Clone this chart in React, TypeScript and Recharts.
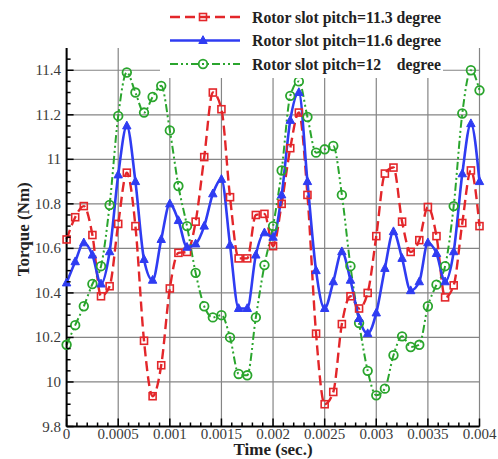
import React from 'react';
import { LineChart, Line, XAxis, YAxis, CartesianGrid, Legend } from 'recharts';

// ---------- data ----------
const timeSec = [
  0, 0.0000833, 0.0001667, 0.00025, 0.0003333, 0.0004167, 0.0005, 0.0005833, 0.0006667, 0.00075,
  0.0008333, 0.0009167, 0.001, 0.0010833, 0.0011667, 0.00125, 0.0013333, 0.0014167, 0.0015, 0.0015833,
  0.0016667, 0.00175, 0.0018333, 0.0019167, 0.002, 0.0020833, 0.0021667, 0.00225, 0.0023333, 0.0024167,
  0.0025, 0.0025833, 0.0026667, 0.00275, 0.0028333, 0.0029167, 0.003, 0.0030833, 0.0031667, 0.00325,
  0.0033333, 0.0034167, 0.0035, 0.0035833, 0.0036667, 0.00375, 0.0038333, 0.0039167, 0.004,
];

const torquePitch113 = [
  10.64, 10.74, 10.79, 10.66, 10.385, 10.43, 10.71, 10.94, 10.7, 10.185,
  9.936, 10.075, 10.42, 10.58, 10.584, 10.72, 11.01, 11.3, 11.225, 10.83,
  10.555, 10.555, 10.75, 10.755, 10.61, 10.8, 11.05, 11.21, 10.84, 10.217,
  9.9, 9.955, 10.26, 10.385, 10.33, 10.4, 10.655, 10.936, 10.963, 10.72,
  10.584, 10.637, 10.786, 10.655, 10.38, 10.434, 10.714, 10.95, 10.7,
];

const torquePitch116 = [
  10.445, 10.54, 10.625, 10.57, 10.44, 10.585, 10.93, 11.15, 10.9, 10.55,
  10.457, 10.64, 10.8, 10.725, 10.605, 10.62, 10.7, 10.845, 10.91, 10.615,
  10.33, 10.33, 10.57, 10.67, 10.65, 10.84, 11.175, 11.3, 10.9, 10.5,
  10.33, 10.45, 10.585, 10.457, 10.285, 10.217, 10.31, 10.51, 10.675, 10.555,
  10.41, 10.45, 10.625, 10.577, 10.45, 10.585, 10.935, 11.16, 10.9,
];

const torquePitch12 = [
  10.167, 10.255, 10.34, 10.44, 10.52, 10.795, 11.195, 11.39, 11.3, 11.21,
  11.28, 11.33, 11.13, 10.88, 10.7, 10.49, 10.34, 10.29, 10.3, 10.2,
  10.036, 10.03, 10.29, 10.525, 10.7, 10.95, 11.285, 11.35, 11.19, 11.03,
  11.045, 11.06, 10.84, 10.52, 10.265, 10.05, 9.94, 9.97, 10.12, 10.205,
  10.157, 10.167, 10.34, 10.437, 10.52, 10.79, 11.206, 11.4, 11.31,
];

const seriesNames = [
  'Rotor slot pitch=11.3 degree',
  'Rotor slot pitch=11.6 degree',
  'Rotor slot pitch=12    degree',
];

const xMajorTicks = [0, 0.0005, 0.001, 0.0015, 0.002, 0.0025, 0.003, 0.0035, 0.004];
const xTickLabels = ['0', '0.0005', '0.001', '0.0015', '0.002', '0.0025', '0.003', '0.0035', '0.004'];
const yMajorTicks = [9.8, 10, 10.2, 10.4, 10.6, 10.8, 11, 11.2, 11.4];
const yTickLabels = ['9.8', '10', '10.2', '10.4', '10.6', '10.8', '11', '11.2', '11.4'];
const xDomain = [0, 0.004];
const yDomain = [9.8, 11.5];

const xLabel = 'Time (sec.)';
const yLabel = 'Torque (Nm)';

// ---------- derived ----------
const data = timeSec.map((t, i) => ({
  t,
  r: torquePitch113[i],
  b: torquePitch116[i],
  g: torquePitch12[i],
}));

// minor ticks: 5 subdivisions on x, 4 on y
const xAllTicks: number[] = [];
for (let i = 0; i < xMajorTicks.length - 1; i++) {
  const a = xMajorTicks[i], b = xMajorTicks[i + 1];
  for (let k = 0; k < 5; k++) xAllTicks.push(a + ((b - a) * k) / 5);
}
xAllTicks.push(xMajorTicks[xMajorTicks.length - 1]);

const yAllTicks: number[] = [];
const yEdges = [...yMajorTicks, yDomain[1]];
for (let i = 0; i < yEdges.length - 1; i++) {
  const a = yEdges[i], b = yEdges[i + 1];
  for (let v = a; v < b - 1e-9; v += 0.05) yAllTicks.push(Math.round(v * 1000) / 1000);
}

const majorIndex = (v: number, arr: number[]) => arr.findIndex((m) => Math.abs(m - v) < 1e-9);

// ---------- styles ----------
const FONT = "'Liberation Serif', 'Times New Roman', serif";
const RED = '#e3262a';
const BLUE = '#2f3cf2';
const GREEN = '#2aa52d';
const GRID = '#858585';

const Square = (props: any) => {
  const { cx, cy, index } = props;
  if (cx == null || cy == null) return <g key={`s${index}`} />;
  return <rect key={`s${index}`} x={cx - 3.5} y={cy - 3.5} width={7} height={7} fill="none" stroke={RED} strokeWidth={1.6} />;
};
const Triangle = (props: any) => {
  const { cx, cy, index } = props;
  if (cx == null || cy == null) return <g key={`t${index}`} />;
  return (
    <polygon
      key={`t${index}`}
      points={`${cx},${cy - 4.8} ${cx - 4.2},${cy + 3} ${cx + 4.2},${cy + 3}`}
      fill={BLUE}
      stroke={BLUE}
      strokeWidth={1}
    />
  );
};
const Circle = (props: any) => {
  const { cx, cy, index } = props;
  if (cx == null || cy == null) return <g key={`c${index}`} />;
  return <circle key={`c${index}`} cx={cx} cy={cy} r={4.3} fill="none" stroke={GREEN} strokeWidth={1.8} />;
};

const series = [
  { key: 'r', name: seriesNames[0], color: RED, dash: '10 5', width: 2.4, dot: Square },
  { key: 'g', name: seriesNames[2], color: GREEN, dash: '8 3 2 3 2 3', width: 2, dot: Circle },
  { key: 'b', name: seriesNames[1], color: BLUE, dash: undefined, width: 2.6, dot: Triangle },
];
const legendOrder = ['r', 'b', 'g'];

const XTick = (props: any) => {
  const { x, y, payload } = props;
  const mi = majorIndex(payload.value, xMajorTicks);
  const major = mi >= 0;
  return (
    <g>
      <line x1={x} x2={x} y1={y} y2={y - (major ? 8 : 4)} stroke="#000" strokeWidth={1.5} />
      {major && (
        <text x={x} y={y + 12} textAnchor="middle" fontFamily={FONT} fontSize={15} fill="#3a3a3a">
          {xTickLabels[mi]}
        </text>
      )}
    </g>
  );
};

const YTick = (props: any) => {
  const { x, y, payload } = props;
  const mi = majorIndex(payload.value, yMajorTicks);
  const major = mi >= 0;
  return (
    <g>
      <line x1={x} x2={x + (major ? 7 : 4)} y1={y} y2={y} stroke="#000" strokeWidth={1.5} />
      {major && (
        <text x={x - 5.5} y={y + 5} textAnchor="end" fontFamily={FONT} fontSize={15} fill="#3a3a3a">
          {yTickLabels[mi]}
        </text>
      )}
    </g>
  );
};

const LegendContent = () => (
  <svg width={283} height={78} style={{ display: 'block', background: '#fff' }}>
    {legendOrder.map((k, i) => {
      const s = series.find((q) => q.key === k)!;
      const cy = 17 + i * 23.5;
      const Dot = s.dot;
      return (
        <g key={k}>
          <line x1={10} x2={80} y1={cy} y2={cy} stroke={s.color} strokeWidth={s.width} strokeDasharray={s.dash} />
          <Dot cx={43} cy={cy} index={i} />
          <text
            x={92}
            y={cy + 5.5}
            fontFamily={FONT}
            fontWeight="bold"
            fontSize={16}
            fill="#222"
            textLength={189}
            lengthAdjust="spacingAndGlyphs"
            style={{ whiteSpace: 'pre' }}
            xmlSpace="preserve"
          >
            {s.name}
          </text>
        </g>
      );
    })}
  </svg>
);

export default function App() {
  return (
    <div style={{ position: 'absolute', left: 0, top: 0, width: 498, height: 459, background: '#fff' }}>
      <LineChart width={498} height={459} data={data} margin={{ top: 48, right: 18.5, left: 6.6, bottom: 2.5 }}>
        <CartesianGrid
          stroke={GRID}
          strokeWidth={1.2}
          horizontalValues={yMajorTicks}
          verticalValues={xMajorTicks}
        />
        <XAxis
          dataKey="t"
          type="number"
          domain={xDomain}
          ticks={xAllTicks}
          interval={0}
          height={30}
          tickSize={0}
          tickMargin={0}
          tickLine={false}
          tick={<XTick />}
          axisLine={{ stroke: '#000', strokeWidth: 2 }}
          label={(p: any) => {
            const vb = p.viewBox;
            return (
              <text x={vb.x + vb.width / 2} y={vb.y + 28.5} textAnchor="middle" fontFamily={FONT} fontWeight="bold" fontSize={17} fill="#222">
                {xLabel}
              </text>
            );
          }}
        />
        <XAxis xAxisId="top" orientation="top" type="number" domain={xDomain} height={0} tick={false} tickLine={false} axisLine={{ stroke: '#000', strokeWidth: 1.5 }} />
        <YAxis
          type="number"
          domain={yDomain}
          ticks={yAllTicks}
          interval={0}
          width={60}
          tickSize={0}
          tickMargin={0}
          tickLine={false}
          tick={<YTick />}
          axisLine={{ stroke: '#000', strokeWidth: 2 }}
          allowDataOverflow
          label={(p: any) => {
            const vb = p.viewBox;
            const cx = vb.x + 17;
            const cy = vb.y + vb.height / 2 - 8;
            return (
              <text x={cx} y={cy} transform={`rotate(-90, ${cx}, ${cy})`} textAnchor="middle" dominantBaseline="central" fontFamily={FONT} fontWeight="bold" fontSize={17} fill="#222">
                {yLabel}
              </text>
            );
          }}
        />
        <YAxis yAxisId="right" orientation="right" type="number" domain={yDomain} width={0} tick={false} tickLine={false} axisLine={{ stroke: '#000', strokeWidth: 1.5 }} />
        {series.map((s) => (
          <Line
            key={s.key}
            dataKey={s.key}
            name={s.name}
            type="monotone"
            stroke={s.color}
            strokeWidth={s.width}
            strokeDasharray={s.dash}
            dot={s.dot}
            activeDot={false}
            isAnimationActive={false}
          />
        ))}
        <Legend
          layout="horizontal"
          verticalAlign="middle"
          align="center"
          content={<LegendContent />}
          wrapperStyle={{ position: 'absolute', left: 160, top: 0, width: 283, height: 78 }}
        />
      </LineChart>
    </div>
  );
}
